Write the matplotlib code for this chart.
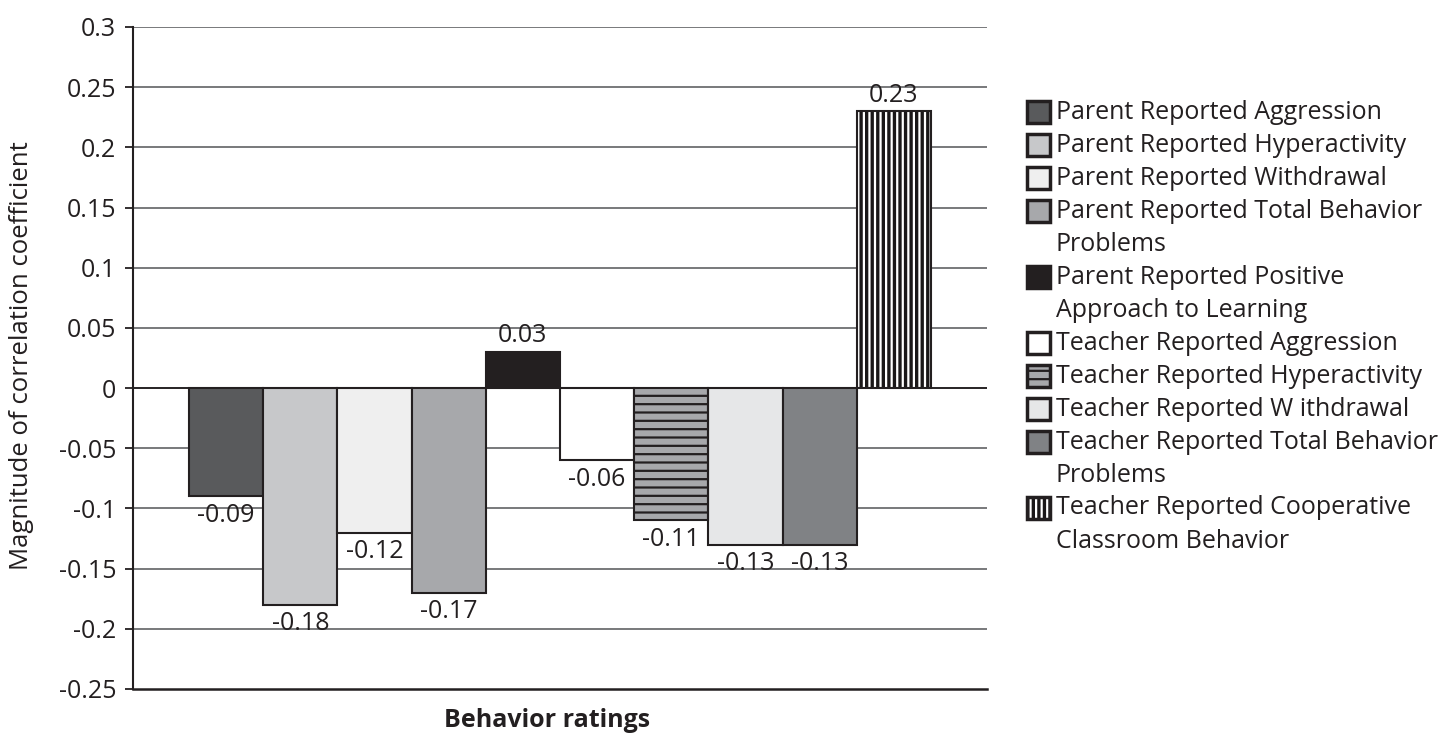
import numpy as np
import matplotlib.pyplot as plt
from matplotlib.patches import Rectangle

plt.rcParams['font.family'] = ['Open Sans', 'DejaVu Sans']
plt.rcParams['hatch.linewidth'] = 1.6

# data
labels = ['Parent Reported Aggression',
          'Parent Reported Hyperactivity',
          'Parent Reported Withdrawal',
          'Parent Reported Total Behavior\nProblems',
          'Parent Reported Positive\nApproach to Learning',
          'Teacher Reported Aggression',
          'Teacher Reported Hyperactivity',
          'Teacher Reported W ithdrawal',
          'Teacher Reported Total Behavior\nProblems',
          'Teacher Reported Cooperative\nClassroom Behavior']
values = [-0.09, -0.18, -0.12, -0.17, 0.03, -0.06, -0.11, -0.13, -0.13, 0.23]
value_text = ['-0.09', '-0.18', '-0.12', '-0.17', '0.03', '-0.06', '-0.11', '-0.13', '-0.13', '0.23']
colors = ['#595a5c', '#c7c8ca', '#efefef', '#a7a8ab', '#231f20',
          '#ffffff', '#a7a8ab', '#e6e7e8', '#808285', '#1a1718']
hatches = [None, None, None, None, None, None, '--', None, None, '|||']
hatch_col = [None, None, None, None, None, None, '#231f20', None, None, '#ffffff']

yticks = np.round(np.arange(-0.25, 0.301, 0.05), 2)
ytick_labels = ['-0.25', '-0.2', '-0.15', '-0.1', '-0.05', '0',
                '0.05', '0.1', '0.15', '0.2', '0.25', '0.3']

fig = plt.figure(figsize=(14.45, 7.35), dpi=100)
ax = fig.add_axes([133/1445, 46/735, 854/1445, 662/735])

x = np.arange(len(values))
for i in range(len(values)):
    if hatches[i]:
        ax.bar(x[i], values[i], width=1.0, color=colors[i], edgecolor=hatch_col[i],
               hatch=hatches[i], linewidth=0, zorder=3)
        ax.bar(x[i], values[i], width=1.0, fill=False, edgecolor='#231f20',
               linewidth=1.5, zorder=4)
    else:
        ax.bar(x[i], values[i], width=1.0, color=colors[i], edgecolor='#231f20',
               linewidth=1.5, zorder=3)
    off = -18.5 if values[i] < 0 else 7
    ax.annotate(value_text[i], (x[i], values[i]), xytext=(0, off),
                textcoords='offset points', ha='center', va='baseline',
                fontsize=18, color='#231f20', zorder=5)

ax.set_xlim(-0.5 - 0.755, 9.5 + 0.755)
ax.set_ylim(-0.25, 0.3)
ax.set_yticks(yticks)
ax.set_yticklabels(ytick_labels, fontsize=18, color='#231f20')
ax.set_xticks([])
for yy in yticks[1:]:
    ax.axhline(yy, color='#6d6e71', linewidth=1.3, zorder=1)
ax.axhline(0, color='#231f20', linewidth=1.3, zorder=2)
for s in ['top', 'right']:
    ax.spines[s].set_visible(False)
ax.spines['left'].set_linewidth(1.5)
ax.spines['bottom'].set_linewidth(1.8)
ax.spines['left'].set_color('#231f20')
ax.spines['bottom'].set_color('#231f20')
ax.tick_params(axis='y', length=6, width=1.3, color='#231f20', pad=6)

ax.set_ylabel('Magnitude of correlation coefficient', fontsize=18.5, color='#231f20')
ax.yaxis.set_label_coords(-(133 - 34)/854, (735 - 356 - 46)/662)
ax.set_xlabel('Behavior ratings', fontsize=18, fontweight='bold', color='#231f20')
ax.xaxis.set_label_coords((547 - 133)/854, -(708 - 689)/662)

# legend drawn in pixel coordinates
lax = fig.add_axes([0, 0, 1, 1])
lax.set_xlim(0, 1445)
lax.set_ylim(735, 0)
lax.axis('off')
row = 0
for i, lab in enumerate(labels):
    yc = 112 + 33 * row
    if hatches[i]:
        lax.add_patch(Rectangle((1027, yc - 11), 23, 22, facecolor=colors[i],
                                edgecolor=hatch_col[i], hatch=hatches[i], linewidth=0))
        lax.add_patch(Rectangle((1027, yc - 11), 23, 22, fill=False,
                                edgecolor='#231f20', linewidth=2.5))
    else:
        lax.add_patch(Rectangle((1027, yc - 11), 23, 22, facecolor=colors[i],
                                edgecolor='#231f20', linewidth=2.5))
    for line in lab.split('\n'):
        lax.text(1056, 112 + 33 * row, line, fontsize=18, va='center',
                 ha='left', color='#231f20')
        row += 1

fig.savefig('out.png', dpi=100)
